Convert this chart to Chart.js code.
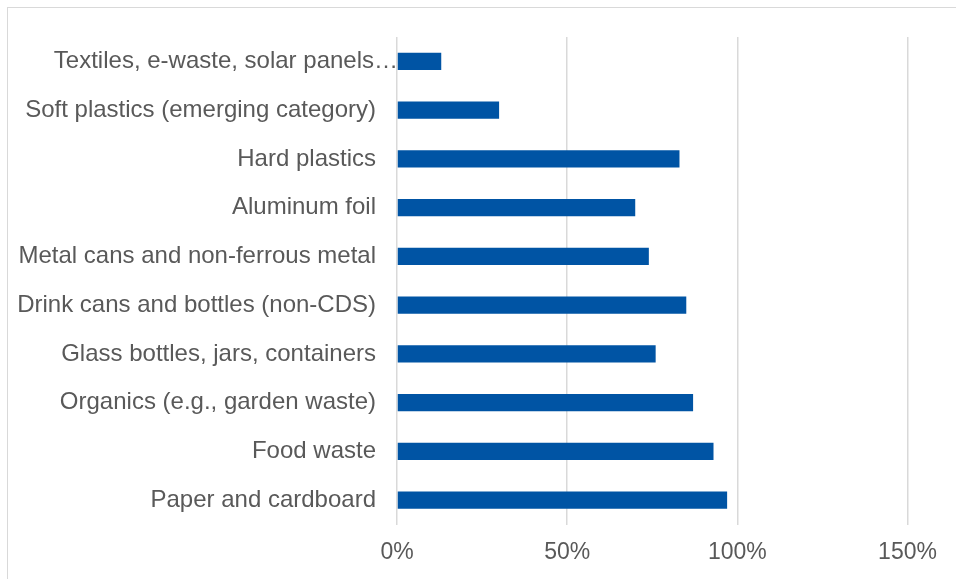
<!DOCTYPE html>
<html>
<head>
<meta charset="utf-8">
<script src="https://cdn.jsdelivr.net/npm/chart.js@4/dist/chart.umd.min.js"></script>
<style>
  html, body { margin: 0; padding: 0; background: #fff; overflow: hidden; }
  #wrap { position: relative; width: 956px; height: 579px; }
  #frame {
    position: absolute; left: 7px; top: 7px; width: 1000px; height: 620px;
    border-left: 1.5px solid #d9d9d9; border-top: 1.5px solid #d9d9d9;
    box-sizing: border-box; pointer-events: none;
  }
  canvas { position: absolute; left: 0; top: 0; }
</style>
</head>
<body>
<div id="wrap">
  <div id="frame"></div>
  <canvas id="chart" width="956" height="579"></canvas>
</div>
<script>
// Waste streams, listed top to bottom
const categories = [
  "Textiles, e-waste, solar panels\u2026",
  "Soft plastics (emerging category)",
  "Hard plastics",
  "Aluminum foil",
  "Metal cans and non-ferrous metal",
  "Drink cans and bottles (non-CDS)",
  "Glass bottles, jars, containers",
  "Organics (e.g., garden waste)",
  "Food waste",
  "Paper and cardboard"
];
// Share (%) for each stream
const shares = [13, 30, 83, 70, 74, 85, 76, 87, 93, 97];
// Axis ticks (%)
const xTicks = [0, 50, 100, 150];

const FONT = "'Liberation Sans', Arial, sans-serif";
const TEXT = "#595959";

// The truncated first label runs up to the axis line instead of
// stopping at the usual label gap.
const overhangLabel = {
  id: "overhangLabel",
  beforeDraw(chart) {
    const items = chart.scales.y.getLabelItems();
    const first = items[0];
    if (first && !first._shifted) {
      first.options.translation[0] += 22;
      first._shifted = true;
    }
  }
};

new Chart(document.getElementById("chart"), {
  type: "bar",
  data: {
    labels: categories,
    datasets: [{
      data: shares,
      backgroundColor: "#0054A4",
      borderWidth: 0,
      categoryPercentage: 1,
      barPercentage: 0.35
    }]
  },
  plugins: [overhangLabel],
  options: {
    indexAxis: "y",
    responsive: false,
    animation: false,
    layout: { padding: { top: 37, right: 48.5, bottom: 0, left: 0 } },
    plugins: { legend: { display: false }, tooltip: { enabled: false } },
    scales: {
      x: {
        min: xTicks[0],
        max: xTicks[xTicks.length - 1],
        afterBuildTicks: s => { s.ticks = xTicks.map(v => ({ value: v })); },
        afterFit: s => { s.height = 54.5; },
        border: { display: false },
        grid: { color: "#d9d9d9", lineWidth: 1.5, drawTicks: false },
        ticks: {
          padding: 14.5,
          color: TEXT,
          font: { family: FONT, size: 23 },
          maxRotation: 0,
          callback: v => v + "%"
        }
      },
      y: {
        afterFit: s => { s.width = 397; },
        border: { display: false },
        grid: { display: false, drawTicks: false },
        ticks: {
          padding: 21,
          color: TEXT,
          font: { family: FONT, size: 24 },
          autoSkip: false
        }
      }
    }
  }
});
</script>
</body>
</html>
